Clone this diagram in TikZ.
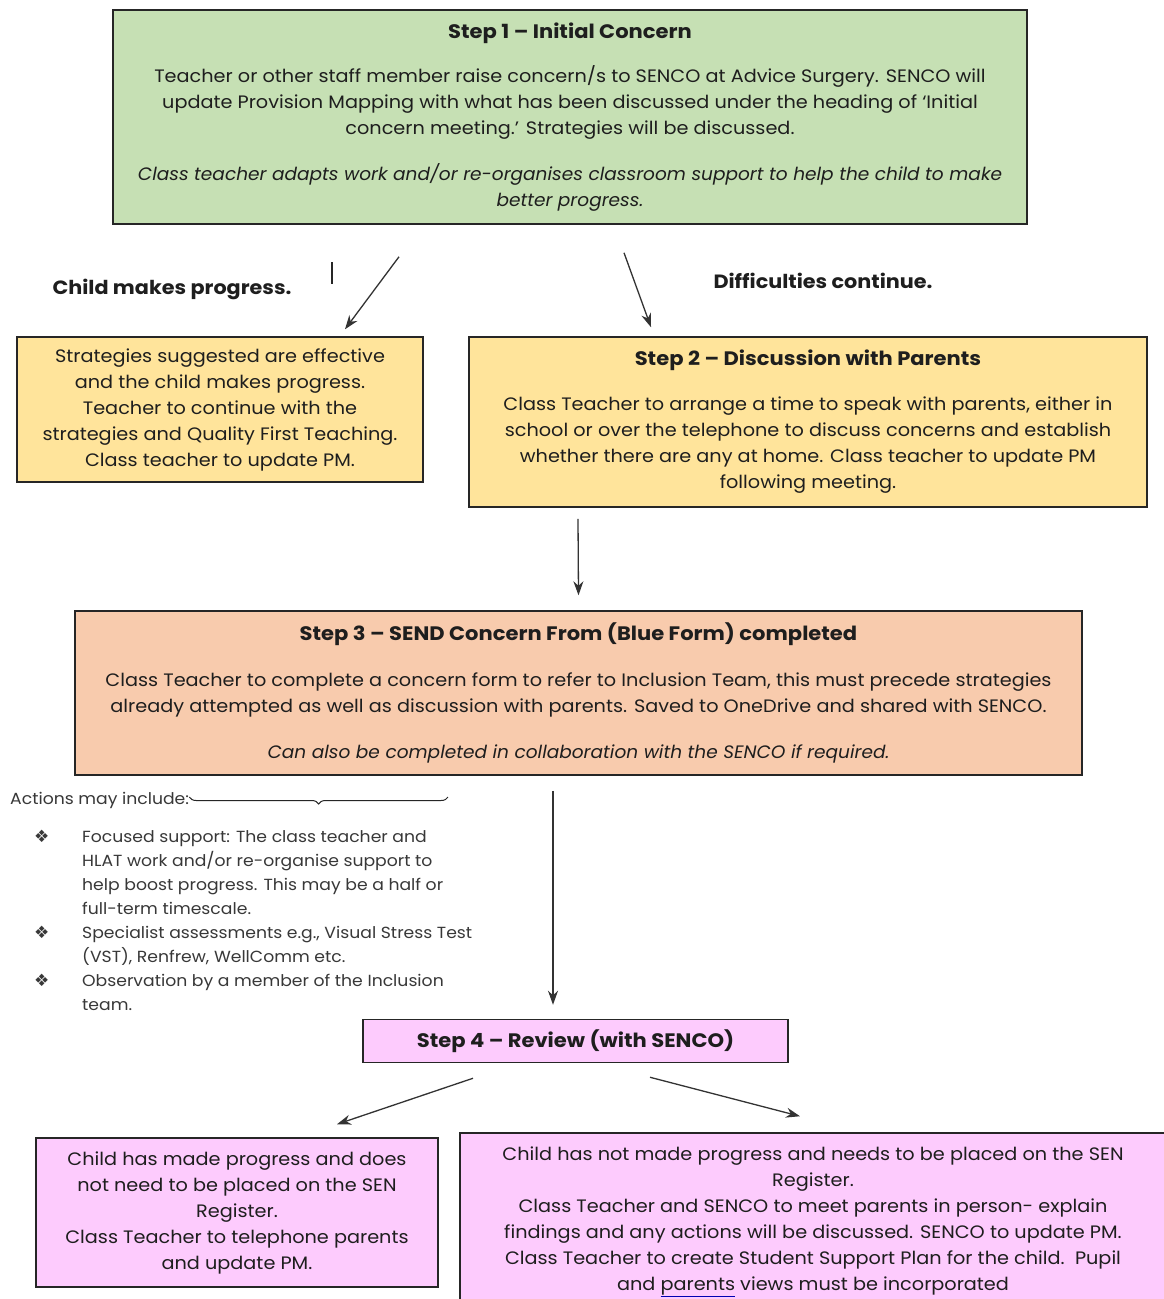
\documentclass[tikz,border=0pt]{standalone}
\usepackage{fontspec}
\setmainfont{Poppins}[UprightFeatures={FakeStretch=1.07}, ItalicFeatures={FakeStretch=1.03}]
\newfontfamily\titlefont{Poppins}[FakeStretch=1.08]
\newfontfamily\symfont{DejaVu Sans}
\usetikzlibrary{arrows.meta,decorations.pathreplacing}
\definecolor{stepgreen}{HTML}{C6E0B4}
\definecolor{stepyellow}{HTML}{FFE49B}
\definecolor{steporange}{HTML}{F8CBAD}
\definecolor{steppink}{HTML}{FDCBFD}
\definecolor{inktext}{HTML}{1E1E1E}
\definecolor{greytext}{HTML}{383838}
\newcommand\ttlfmt{\titlefont\bfseries\fontsize{19.5}{26}\selectfont}
\newcommand\bulletmark{{\symfont\fontsize{17}{24}\selectfont ❖}}
\begin{document}
\begin{tikzpicture}[x=1pt,y=-1pt,
  box/.style={draw=black!85, line width=1.5pt, align=center, inner sep=0pt,
    text=inktext, font=\fontsize{18}{26}\selectfont},
  arr/.style={-{Stealth[length=14pt,width=10pt]}, line width=1.3pt, draw=black!80},
  lbl/.style={font=\titlefont\bfseries\fontsize{19.2}{24}\selectfont, text=inktext},
  small/.style={font=\fontsize{16.1}{24}\selectfont, text=greytext}]
\clip (0,0) rectangle (1164,1299);
\fill[white] (0,0) rectangle (1164,1299);

% Step 1
\node[box, fill=stepgreen, minimum width=914pt, minimum height=214pt] (s1) at (570,117)
 {{\ttlfmt Step 1 – Initial Concern}\\[18pt]
  Teacher or other staff member raise concern/s to SENCO at Advice Surgery. SENCO will\\
  update Provision Mapping with what has been discussed under the heading of ‘Initial\\
  concern meeting.’ Strategies will be discussed.\\[20pt]
  \textit{Class teacher adapts work and/or re-organises classroom support to help the child to make}\\
  \textit{better progress.}};

% labels
\node[lbl] (lprog) at (172,289) {Child makes progress.};
\node[lbl] (ldiff) at (823,281) {Difficulties continue.};
\draw[line width=1.1pt, black!85] (332,262) -- (332,284);

% left yellow
\node[box, fill=stepyellow, minimum width=406pt, minimum height=145pt] (effective) at (220,409.5)
 {Strategies suggested are effective\\
  and the child makes progress.\\
  Teacher to continue with the\\
  strategies and Quality First Teaching.\\
  Class teacher to update PM.};

% Step 2
\node[box, fill=stepyellow, minimum width=678pt, minimum height=170pt] (s2) at (808,422)
 {{\ttlfmt Step 2 – Discussion with Parents}\\[19pt]
  Class Teacher to arrange a time to speak with parents, either in\\
  school or over the telephone to discuss concerns and establish\\
  whether there are any at home. Class teacher to update PM\\
  following meeting.};

% Step 3
\node[box, fill=steporange, minimum width=1007pt, minimum height=164pt] (s3) at (578.5,693)
 {{\ttlfmt Step 3 – SEND Concern From (Blue Form) completed}\\[20pt]
  Class Teacher to complete a concern form to refer to Inclusion Team, this must precede strategies\\
  already attempted as well as discussion with parents. Saved to OneDrive and shared with SENCO.\\[20pt]
  \textit{Can also be completed in collaboration with the SENCO if required.}};

% Actions
\node[small, anchor=west, inner sep=0pt] (actions) at (10,800) {Actions may include:};
\draw[line width=1pt, black!85, decorate, decoration={brace, amplitude=7pt}]
  (448,797) -- (actions.east |- 0,797);

\node[small, anchor=north west, inner sep=0pt] (list) at (34,825)
 {\begin{tabular}{@{}p{48pt}@{}l@{}}
  \bulletmark & Focused support: The class teacher and\\
   & HLAT work and/or re-organise support to\\
   & help boost progress. This may be a half or\\
   & full-term timescale.\\
  \bulletmark & Specialist assessments e.g., Visual Stress Test\\
   & (VST), Renfrew, WellComm etc.\\
  \bulletmark & Observation by a member of the Inclusion\\
   & team.
 \end{tabular}};

% Step 4
\node[box, fill=steppink, minimum width=425pt, minimum height=43pt] (s4) at (575.5,1041)
 {{\ttlfmt Step 4 – Review (with SENCO)}};

% bottom boxes
\node[box, fill=steppink, minimum width=402pt, minimum height=149pt] (notsen) at (237,1212.5)
 {Child has made progress and does\\
  not need to be placed on the SEN\\
  Register.\\
  Class Teacher to telephone parents\\
  and update PM.};

\node[box, fill=steppink, minimum width=706pt, minimum height=177pt] (sen) at (813,1221.5)
 {Child has not made progress and needs to be placed on the SEN\\
  Register.\\
  Class Teacher and SENCO to meet parents in person- explain\\
  findings and any actions will be discussed. SENCO to update PM.\\
  Class Teacher to create Student Support Plan for the child.\ \ Pupil\\
  and {\color{blue!70!black}\underline{\color{inktext}parents}} views must be incorporated};

% connectors
\draw[arr] ([xshift=-171pt,yshift=-32pt]s1.south) -- ([xshift=125pt,yshift=7pt]effective.north);
\draw[arr] ([xshift=54pt,yshift=-28pt]s1.south) -- ([xshift=-157pt,yshift=9pt]s2.north);
\draw[arr] ([xshift=-230pt,yshift=-11pt]s2.south) -- ([yshift=15pt]s3.north);
\draw[arr] ([xshift=-25.5pt,yshift=-15pt]s3.south) -- ([xshift=-22.5pt,yshift=14pt]s4.north);
\draw[arr] ([xshift=-102.5pt,yshift=-15pt]s4.south) -- ([xshift=100pt,yshift=13pt]notsen.north);
\draw[arr] ([xshift=74.5pt,yshift=-14pt]s4.south) -- ([xshift=-13pt,yshift=16pt]sen.north);
\end{tikzpicture}
\end{document}
